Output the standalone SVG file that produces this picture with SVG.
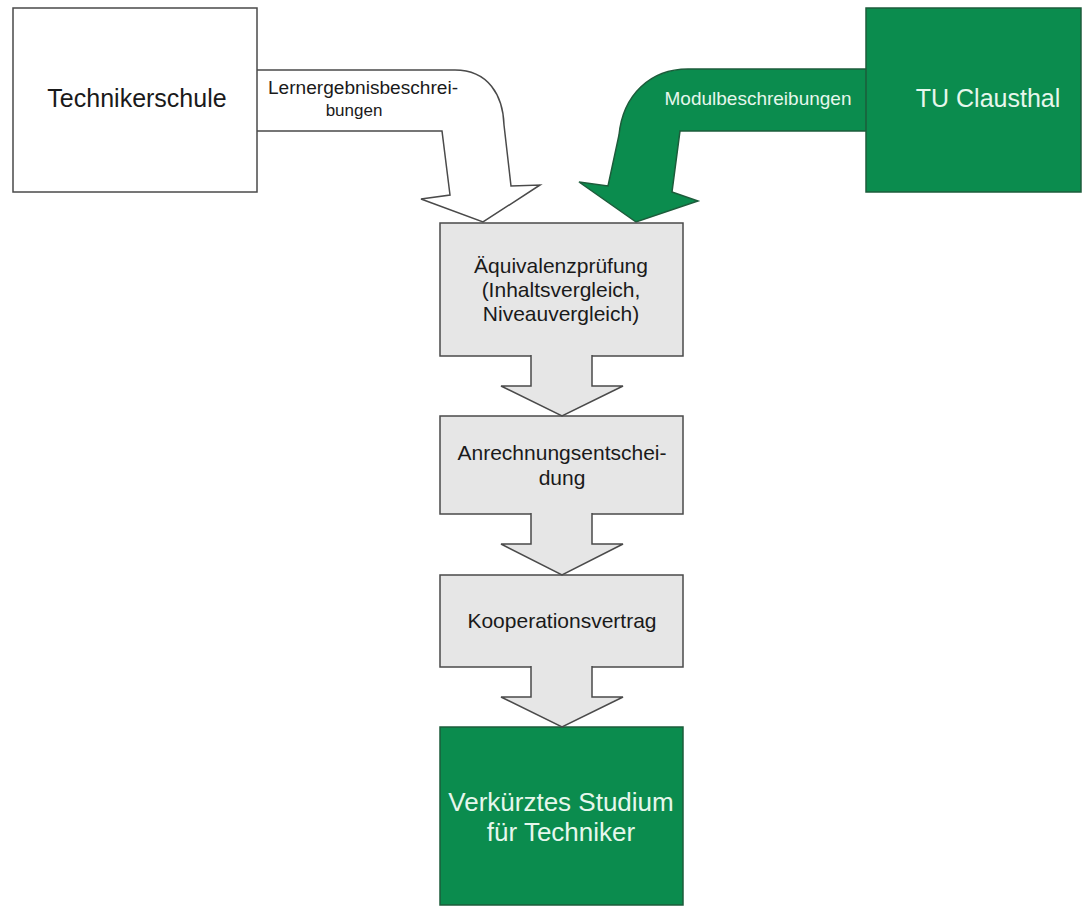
<svg xmlns="http://www.w3.org/2000/svg" width="1090" height="907" viewBox="0 0 1090 907">
<style>
.t{font-family:"Liberation Sans",Arial,sans-serif;text-anchor:middle}
.box{fill:#ffffff;stroke:#4a4a4a;stroke-width:1.5}
.grey{fill:#e6e6e6;stroke:#4a4a4a;stroke-width:1.5}
.green{fill:#0b8c4e;stroke:#1d5c3b;stroke-width:1.5}
.dark{fill:#1a1a1a}
.light{fill:#e6f7ec}
</style>
<rect width="1090" height="907" fill="#ffffff"/>
<g id="connectors">
<path id="arrow-left" d="M257,70 L455,70 C488,70 503,95 504,125 L511,186 L540,185 L483,222 L421,199 L450,195 L442,131 L257,131" fill="#ffffff" stroke="#4a4a4a" stroke-width="1.5" stroke-linejoin="miter"/>
<text class="t dark" x="363" y="94" font-size="18" textLength="190" lengthAdjust="spacingAndGlyphs">Lernergebnisbeschrei-</text>
<text class="t dark" x="354" y="116" font-size="17">bungen</text>
<path id="arrow-right" d="M866,69 L688,69 C650,69 623,95 619,135 L608,186 L579,182 L636,222 L698,201 L672,192 L680,131 L866,131" fill="#0b8c4e" stroke="#1d5c3b" stroke-width="1.5"/>
<text class="t light" x="758" y="105" font-size="19">Modulbeschreibungen</text>
</g>
<g id="technikerschule">
<rect class="box" x="13" y="8" width="244" height="184"/>
<text class="t dark" x="137" y="107" font-size="25">Technikerschule</text>
</g>
<g id="tu-clausthal">
<rect class="green" x="866" y="8" width="215" height="184"/>
<text class="t light" x="988" y="107" font-size="25">TU Clausthal</text>
</g>
<g id="aequivalenz">
<rect class="grey" x="440" y="223" width="243" height="133"/>
<text class="t dark" x="561" y="273" font-size="21">Äquivalenzprüfung</text>
<text class="t dark" x="561" y="297" font-size="21">(Inhaltsvergleich,</text>
<text class="t dark" x="561" y="321" font-size="21">Niveauvergleich)</text>
</g>
<g id="anrechnung">
<rect class="grey" x="440" y="416" width="243" height="98"/>
<text class="t dark" x="562" y="460" font-size="21">Anrechnungsentschei-</text>
<text class="t dark" x="562" y="485" font-size="21">dung</text>
</g>
<g id="kooperation">
<rect class="grey" x="440" y="575" width="243" height="92"/>
<text class="t dark" x="562" y="628" font-size="21">Kooperationsvertrag</text>
</g>
<g id="studium">
<rect class="green" x="440" y="727" width="243" height="178"/>
<text class="t light" x="561" y="811" font-size="26">Verkürztes Studium</text>
<text class="t light" x="561" y="841" font-size="26">für Techniker</text>
</g>
<g id="flow-arrows">
<path d="M531,355 L531,386 L501,386 L562,416 L623,386 L592,386 L592,355" class="grey"/>
<path d="M531,513 L531,544 L501,544 L562,575 L623,544 L592,544 L592,513" class="grey"/>
<path d="M531,666 L531,697 L501,697 L562,727 L623,697 L592,697 L592,666" class="grey"/>
</g>
</svg>
